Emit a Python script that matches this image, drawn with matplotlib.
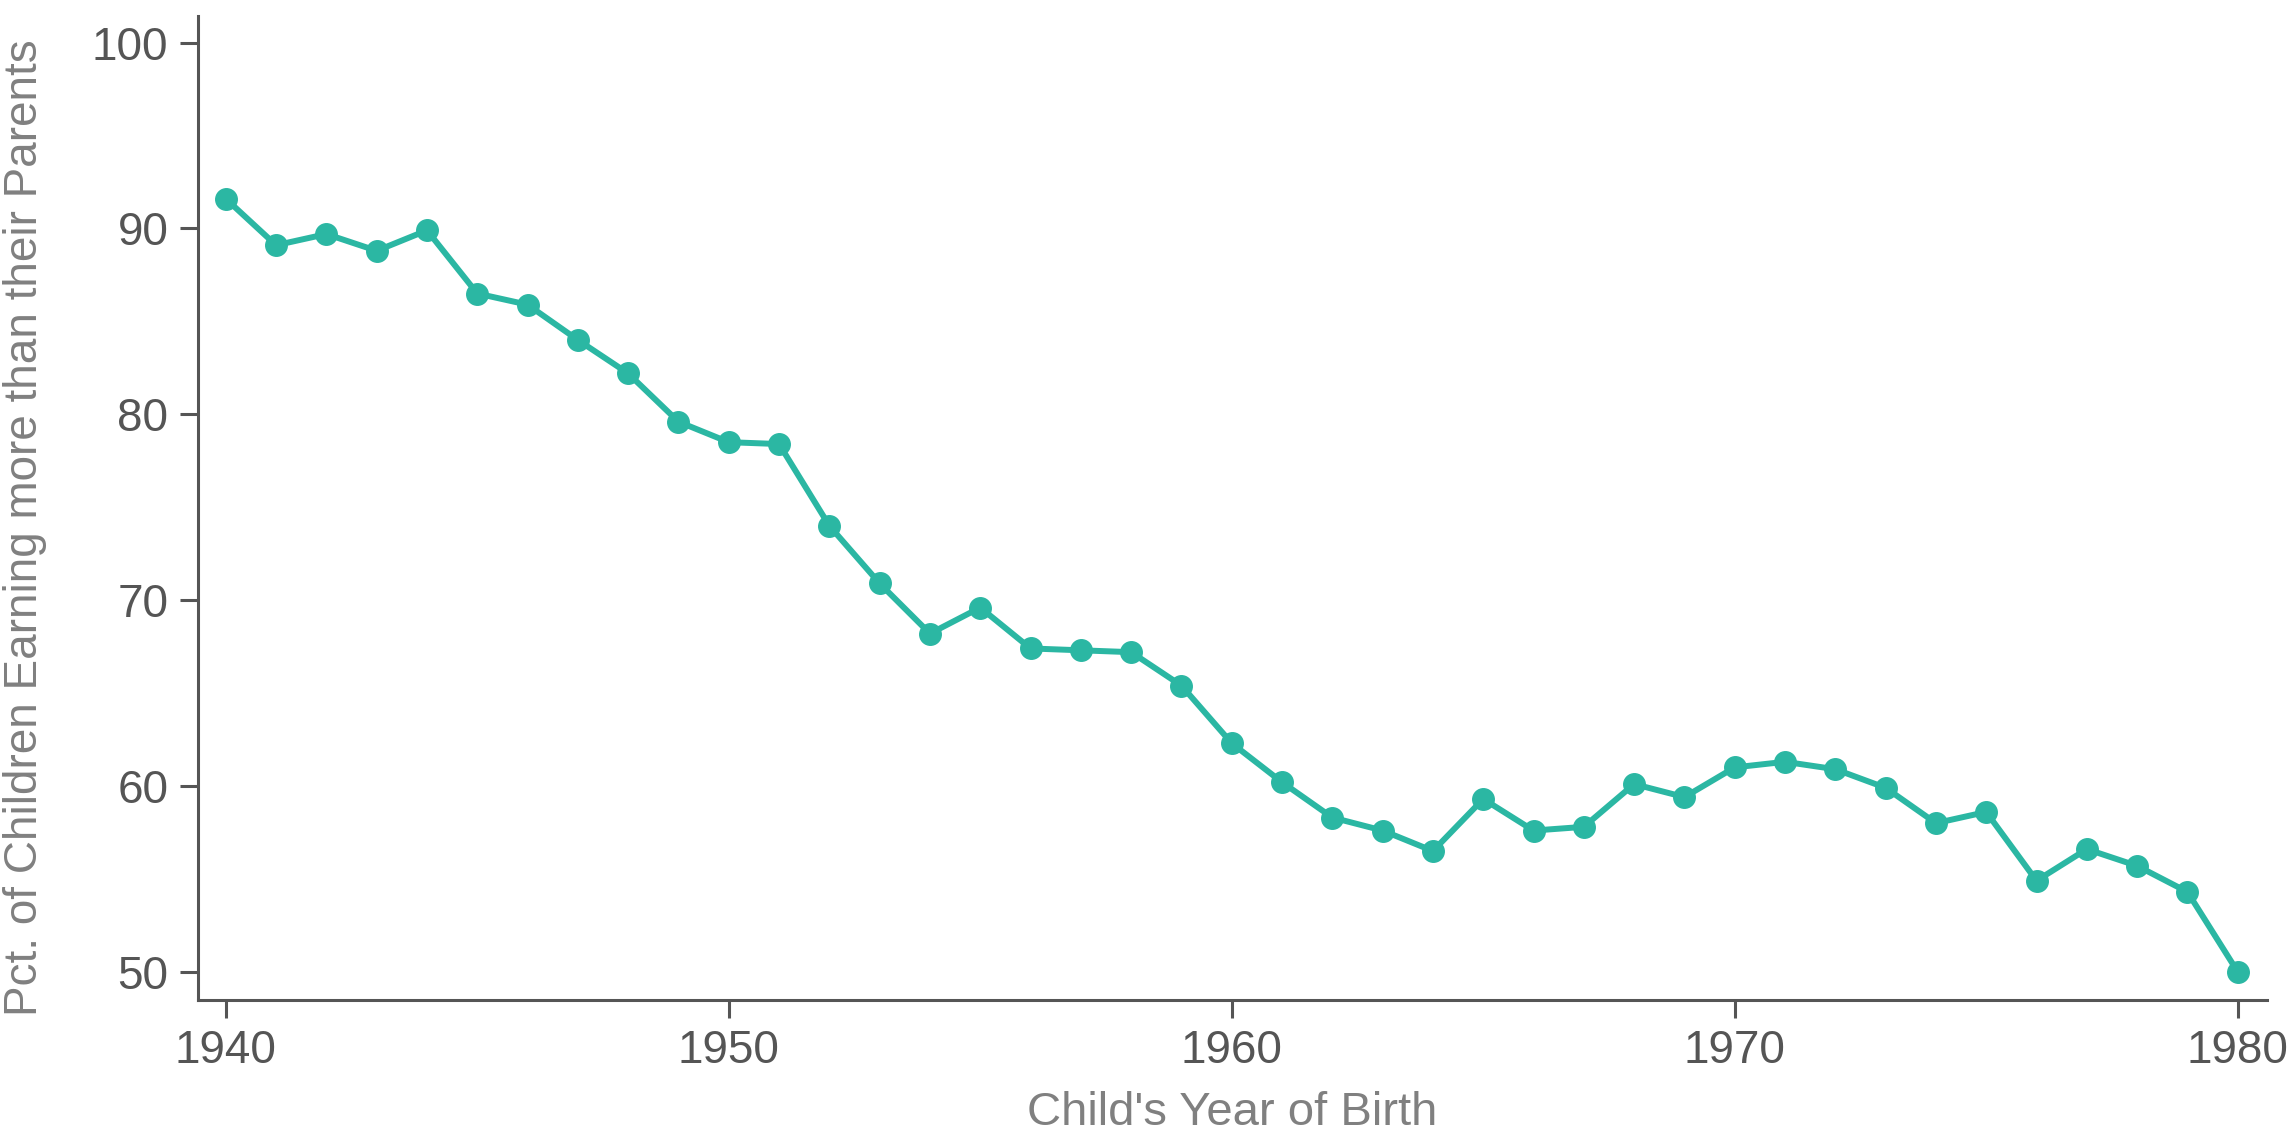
import numpy as np
import matplotlib.pyplot as plt

plt.rcParams['font.family'] = ['Liberation Sans', 'DejaVu Sans']

years = np.arange(1940, 1981)
pct = [91.6, 89.1, 89.7, 88.8, 89.9, 86.5, 85.9, 84.0, 82.2, 79.6,
       78.5, 78.4, 74.0, 70.9, 68.2, 69.6, 67.4, 67.3, 67.2, 65.4,
       62.3, 60.2, 58.3, 57.6, 56.5, 59.3, 57.6, 57.8, 60.1, 59.4,
       61.0, 61.3, 60.9, 59.9, 58.0, 58.6, 54.9, 56.6, 55.7, 54.3,
       50.0]
xticks = [1940, 1950, 1960, 1970, 1980]
yticks = [50, 60, 70, 80, 90, 100]

teal = '#2bb7a3'
dark = '#555555'
grey = '#808080'

fig = plt.figure(figsize=(22.9, 11.31), dpi=100)
ax = fig.add_axes([0.0863, 0.1158, 0.9036, 0.8703])

ax.plot(years, pct, color=teal, lw=4.3, marker='o', ms=15.5, zorder=3)

ax.set_xlim(1939.44, 1980.58)
ax.set_ylim(48.48, 101.45)
ax.set_xticks(xticks)
ax.set_yticks(yticks)

for s in ['top', 'right']:
    ax.spines[s].set_visible(False)
for s in ['left', 'bottom']:
    ax.spines[s].set_linewidth(2.2)
    ax.spines[s].set_color(dark)

ax.tick_params(length=13, width=2.2, color=dark, labelcolor=dark,
               labelsize=33, pad=8)

ax.set_xlabel("Child's Year of Birth", fontsize=34, color=grey, labelpad=13)
ax.set_ylabel("Pct. of Children Earning more than their Parents",
              fontsize=33, color=grey)
ax.yaxis.set_label_coords(-0.073, 0.48)

fig.savefig('out.png', dpi=100)
